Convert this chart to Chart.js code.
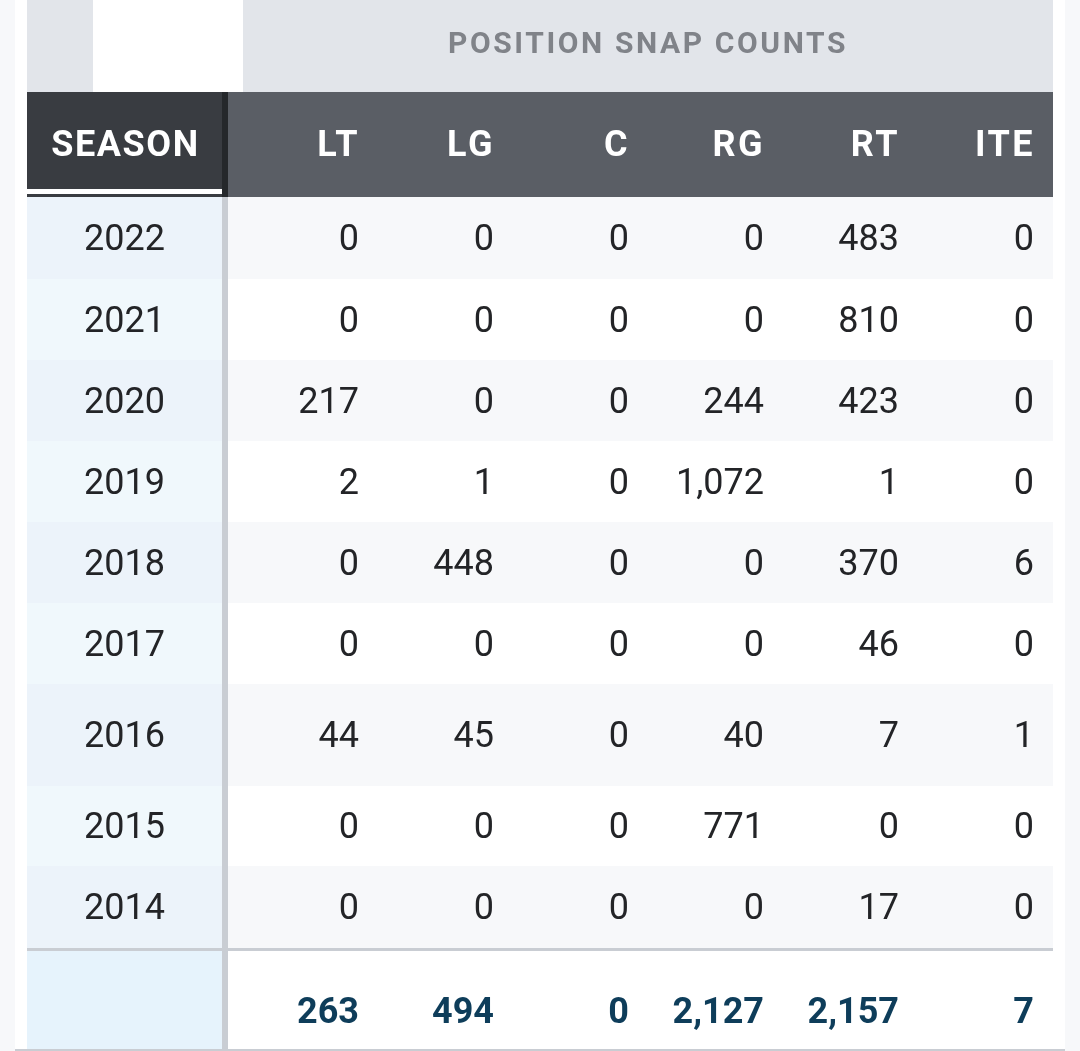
<!DOCTYPE html>
<html>
<head>
<meta charset="utf-8">
<script src="https://cdn.jsdelivr.net/npm/chart.js@4.4.1/dist/chart.umd.min.js"></script>
<style>
  html, body { margin: 0; padding: 0; background: #fff; }
  canvas { display: block; }
</style>
</head>
<body>
<canvas id="snapChart" width="1080" height="1051"></canvas>
<script>
// table data
const title = "POSITION SNAP COUNTS";
const seasonLabel = "SEASON";
const columns = ["LT", "LG", "C", "RG", "RT", "ITE"];
const seasons = ["2022", "2021", "2020", "2019", "2018", "2017", "2016", "2015", "2014"];
const lt = [0, 0, 217, 2, 0, 0, 44, 0, 0];
const lg = [0, 0, 0, 1, 448, 0, 45, 0, 0];
const c = [0, 0, 0, 0, 0, 0, 0, 0, 0];
const rg = [0, 0, 244, 1072, 0, 0, 40, 771, 0];
const rt = [483, 810, 423, 1, 370, 46, 7, 0, 17];
const ite = [0, 0, 0, 0, 6, 0, 1, 0, 0];
const totals = [263, 494, 0, 2127, 2157, 7];

const series = [lt, lg, c, rg, rt, ite];

// layout (in scale units == px)
const W = 1080, H = 1051;
const tableLeft = 27, tableRight = 1053;
const seasonRight = 222, sepRight = 228;
const firstCol = 243, colWidth = 135, padRight = 19;
const headTop = 92, headBottom = 197;
const rowEdges = [197, 279, 360, 441, 522, 603, 684, 786, 866, 948];
const totalTop = 951, totalBottom = 1049;

const colRight = j => firstCol + colWidth * (j + 1) - padRight;
const rowMid = i => (rowEdges[i] + rowEdges[i + 1]) / 2;
const fmt = v => v.toLocaleString("en-US");

const datasets = series.map((arr, j) => ({
  label: columns[j],
  data: arr.map((v, i) => ({ x: colRight(j), y: rowMid(i), v: v })),
  pointRadius: 0,
  kind: "cell",
}));
datasets.push({
  label: "SEASON",
  data: seasons.map((s, i) => ({ x: (tableLeft + seasonRight) / 2, y: rowMid(i), v: s })),
  pointRadius: 0,
  kind: "season",
});
datasets.push({
  label: "TOTAL",
  data: totals.map((v, j) => ({ x: colRight(j), y: 1011, v: v })),
  pointRadius: 0,
  kind: "total",
});

const tablePlugin = {
  id: "tablePlugin",
  beforeDatasetsDraw(chart) {
    const { ctx, scales: { x, y } } = chart;
    const rect = (x0, y0, x1, y1, color) => {
      const px0 = x.getPixelForValue(x0), px1 = x.getPixelForValue(x1);
      const py0 = y.getPixelForValue(y0), py1 = y.getPixelForValue(y1);
      ctx.fillStyle = color;
      ctx.fillRect(px0, py0, px1 - px0, py1 - py0);
    };
    ctx.save();
    // side strips
    rect(0, 0, 15, H, "#f7f8fa");
    rect(1065, 0, W, H, "#f7f8fa");
    // title band
    rect(tableLeft, 0, tableRight, headTop, "#e2e5ea");
    rect(93, 0, firstCol, headTop, "#ffffff");
    // header row
    rect(tableLeft, headTop, seasonRight, headBottom, "#393c41");
    rect(seasonRight, headTop, sepRight, headBottom, "#25282b");
    rect(sepRight, headTop, tableRight, headBottom, "#5a5e65");
    rect(tableLeft, 189, seasonRight, 194, "#ffffff");
    // body rows
    seasons.forEach((s, i) => {
      const y0 = rowEdges[i], y1 = rowEdges[i + 1];
      rect(tableLeft, y0, seasonRight, y1, i % 2 === 0 ? "#ecf3fa" : "#f0f8fc");
      rect(sepRight, y0, tableRight, y1, i % 2 === 0 ? "#f7f8fa" : "#ffffff");
    });
    rect(seasonRight, headBottom, sepRight, H, "#c9cdd3");
    rect(tableLeft, 948, tableRight, totalTop, "#c9cdd3");
    rect(tableLeft, totalTop, seasonRight, totalBottom, "#e6f3fc");
    rect(15, totalBottom, 1065, H, "#c9cdd3");

    // title
    ctx.font = "bold 30px Roboto";
    ctx.letterSpacing = "2.6px";
    ctx.fillStyle = "#808389";
    ctx.textAlign = "center";
    ctx.textBaseline = "alphabetic";
    ctx.fillText(title, x.getPixelForValue(648), y.getPixelForValue(53));

    // header labels
    ctx.font = "bold 36px Roboto";
    ctx.letterSpacing = "1.6px";
    ctx.fillStyle = "#ffffff";
    ctx.textAlign = "center";
    ctx.fillText(seasonLabel, x.getPixelForValue((tableLeft + seasonRight) / 2 + 1), y.getPixelForValue(156));
    ctx.letterSpacing = "2.5px";
    ctx.textAlign = "right";
    columns.forEach((name, j) => {
      ctx.fillText(name, x.getPixelForValue(colRight(j) + 1), y.getPixelForValue(156));
    });
    ctx.restore();
  },
  afterDatasetsDraw(chart) {
    const { ctx } = chart;
    ctx.save();
    ctx.textBaseline = "alphabetic";
    chart.data.datasets.forEach((ds, d) => {
      const meta = chart.getDatasetMeta(d);
      meta.data.forEach((pt, i) => {
        const raw = ds.data[i];
        if (ds.kind === "season") {
          ctx.font = "36px Roboto";
          ctx.fillStyle = "#232427";
          ctx.textAlign = "center";
          ctx.fillText(raw.v, pt.x, pt.y + 12);
        } else if (ds.kind === "total") {
          ctx.font = "bold 36px Roboto";
          ctx.fillStyle = "#0e3d5a";
          ctx.textAlign = "right";
          ctx.fillText(fmt(raw.v), pt.x, pt.y + 12);
        } else {
          ctx.font = "36px Roboto";
          ctx.fillStyle = "#232427";
          ctx.textAlign = "right";
          ctx.fillText(fmt(raw.v), pt.x, pt.y + 12);
        }
      });
    });
    ctx.restore();
  },
};

const ctx = document.querySelector("#snapChart");

const chart = new Chart(ctx, {
  type: "scatter",
  data: { datasets: datasets },
  options: {
    responsive: false,
    animation: false,
    layout: { padding: 0 },
    plugins: { legend: { display: false }, tooltip: { enabled: false } },
    scales: {
      x: { type: "linear", min: 0, max: W, display: false },
      y: { type: "linear", min: 0, max: H, reverse: true, display: false },
    },
  },
  plugins: [tablePlugin],
});
</script>
</body>
</html>
